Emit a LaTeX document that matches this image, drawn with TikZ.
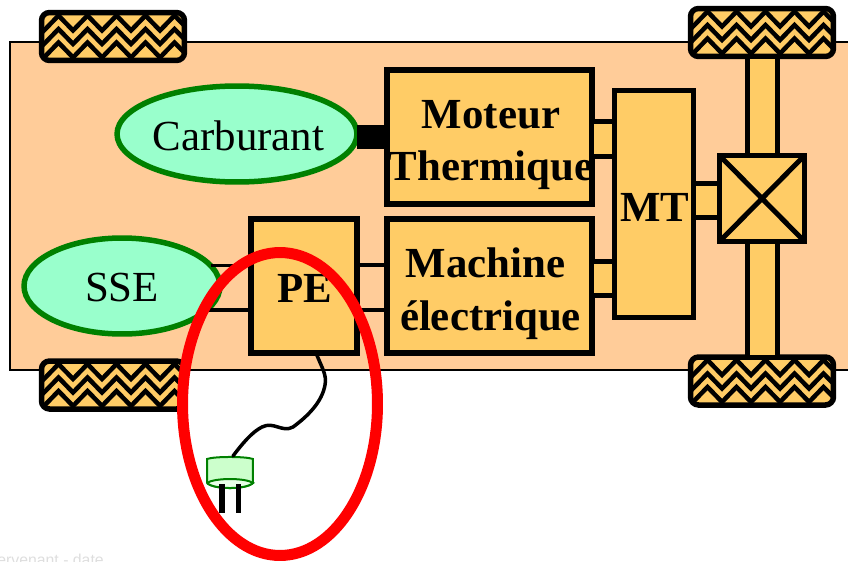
\documentclass[tikz,border=0pt]{standalone}
\usepackage{fontspec}
\setmainfont{Liberation Serif}
\setsansfont{Liberation Sans}
\usepackage{tikz}
\usetikzlibrary{positioning}
\usetikzlibrary{calc}
\usetikzlibrary{shapes.geometric}

\definecolor{bodycolor}{HTML}{FFCC99}
\definecolor{boxcolor}{HTML}{FFCC66}
\definecolor{tankcolor}{HTML}{99FFCC}
\definecolor{plugcolor}{HTML}{CCFFCC}
\definecolor{pluglight}{HTML}{E6FFE6}
\definecolor{tankline}{HTML}{008000}

\begin{document}
\begin{tikzpicture}[
x=0.02cm, y=-0.02cm,
squarednode/.style={
    rectangle,
    draw=black,
    fill=boxcolor,
    line width=0.11cm,
    inner sep=0pt, % No inner spacing
    outer sep=0pt, % No outer spacing
},
boxtext/.style={
    align=center,
    inner sep=0pt,
    font=\fontsize{24.4}{30}\selectfont\bfseries,
},
tanknode/.style={
    ellipse,
    draw=tankline,
    fill=tankcolor,
    line width=0.11cm,
    inner sep=0pt,
    outer sep=0pt,
},
tanktext/.style={
    inner sep=0pt,
    font=\fontsize{24.4}{30}\selectfont,
},
wheelbox/.style={
    rectangle,
    fill=boxcolor,
    rounded corners=0.16cm,
    minimum width=2.86cm,
    minimum height=0.96cm,
    inner sep=0pt,
    outer sep=0pt,
},
shaft/.style={draw=black, fill=boxcolor, line width=0.1cm},
wire/.style={draw=black, line width=0.07cm},
]

\clip (0,0) rectangle (848,561);

% car body
\draw[fill=bodycolor, line width=0.03cm] (10,42) rectangle (870,370);

% axles
\node[squarednode, minimum width=1.7cm, minimum height=1.72cm] (Pont) at (762,198.5) {};
\draw[line width=0.1cm] (Pont.north west) -- (Pont.south east);
\draw[line width=0.1cm] (Pont.north east) -- (Pont.south west);

% wheels
\foreach \wheelname/\wx/\wy in {WheelA/113/36.5, WheelB/113/385, WheelC/762/32.5, WheelD/762/381} {
    \node[wheelbox] (\wheelname) at (\wx,\wy) {};
    \begin{scope}
        \clip (\wheelname.north west) rectangle (\wheelname.south east);
        \foreach \row in {0,1,2} {
            \draw[line width=0.09cm] ($(\wheelname.north west)+(-26.5,18+13.5*\row)$)
                \foreach \i in {0,...,5} { -- ++(14.5,-15) -- ++(14.5,15) };
        }
    \end{scope}
    \draw[line width=0.11cm, rounded corners=0.16cm] (\wheelname.north west) rectangle (\wheelname.south east);
}

\draw[shaft] (WheelC.south -| 747.5,0) rectangle (Pont.north -| 777,0);
\draw[shaft] (Pont.south -| 747.5,0) rectangle (WheelD.north -| 777,0);

% boxes
\node[squarednode, minimum width=4.1cm, minimum height=2.68cm] (Moteur) at (489.5,137) {};
\node[squarednode, minimum width=4.1cm, minimum height=2.68cm] (Machine) at (489.5,286) {};
\node[squarednode, minimum width=2.12cm, minimum height=2.68cm] (PE) at (304,286) {};
\node[squarednode, minimum width=1.58cm, minimum height=4.55cm] (MT) at (654,204) {};

\node[boxtext] (MoteurText) at ($(Moteur.center)+(1.5,8)$) {Moteur\\Thermique};
\node[boxtext] (MachineText) at ($(Machine.center)+(1,7.5)$) {Machine\hspace*{0.2cm}\\électrique};
\node[boxtext] (PEText) at ($(PE.center)+(1,2)$) {PE};
\node[boxtext] (MTText) at ($(MT.center)+(1,3)$) {MT};

\node[tanknode, minimum width=4.8cm, minimum height=1.92cm] (Carburant) at (237,134) {};
\node[tanknode, minimum width=3.92cm, minimum height=1.92cm] (SSE) at (122,286) {};
\node[tanktext] (CarburantText) at ($(Carburant.center)+(1.5,2)$) {Carburant};
\node[tanktext] (SSEText) at ($(SSE.center)+(0,2)$) {SSE};

% links
\draw[line width=0.48cm] (Carburant.east |- Moteur.west) -- (Moteur.west);
\draw[wire] (SSE.13) -- (SSE.13 -| PE.west);
\draw[wire] (SSE.-16) -- (SSE.-16 -| PE.west);
\draw[wire] (PE.east |- 0,265) -- (Machine.west |- 0,265);
\draw[wire] (PE.east |- 0,310) -- (Machine.west |- 0,310);
\draw[shaft] (Moteur.east |- 0,121.5) rectangle (MT.west |- 0,156.5);
\draw[shaft] (Machine.east |- 0,261) rectangle (MT.west |- 0,295);
\draw[shaft] (MT.east |- 0,183.5) rectangle (Pont.west |- 0,217.5);

% plug
\node[inner sep=0pt, outer sep=0pt, minimum width=0.92cm, minimum height=0.48cm] (Plug) at (230,471) {};
\draw[draw=tankline, fill=plugcolor, line width=0.04cm]
    (Plug.south west) -- (Plug.north west)
    .. controls (214,456.3) and (246,456.3) .. (Plug.north east)
    -- (Plug.south east)
    .. controls (246,489.7) and (214,489.7) .. (Plug.south west);
\draw[draw=tankline, fill=pluglight, line width=0.04cm]
    (Plug.south west) .. controls (214,477.7) and (246,477.7) .. (Plug.south east)
    .. controls (246,489.7) and (214,489.7) .. (Plug.south west);
\coordinate (PinA) at (222,484);
\coordinate (PinB) at (238.5,484);
\draw[line width=0.11cm] (PinA) -- ++(0,29);
\draw[line width=0.11cm] (PinB) -- ++(0,29);

% cable
\draw[line width=0.07cm, line cap=round] (PE.south -| 316,0)
    .. controls (322,368) and (327,375) .. (325,385)
    .. controls (322,402) and (308,416) .. (293,427)
    .. controls (282,433) and (274,421) .. (262,427)
    .. controls (252,432) and (242,444) .. (233,456);

% ring
\node[ellipse, draw=red, line width=0.22cm, inner sep=0pt, outer sep=0pt, minimum width=3.9cm, minimum height=6.06cm] (Ring) at (280,404) {};

\node[anchor=base west, text=black!13, font=\sffamily\fontsize{9}{10}\selectfont, inner sep=0pt] (Footer) at (-3,565) {ervenant - date};

\end{tikzpicture}
\end{document}
